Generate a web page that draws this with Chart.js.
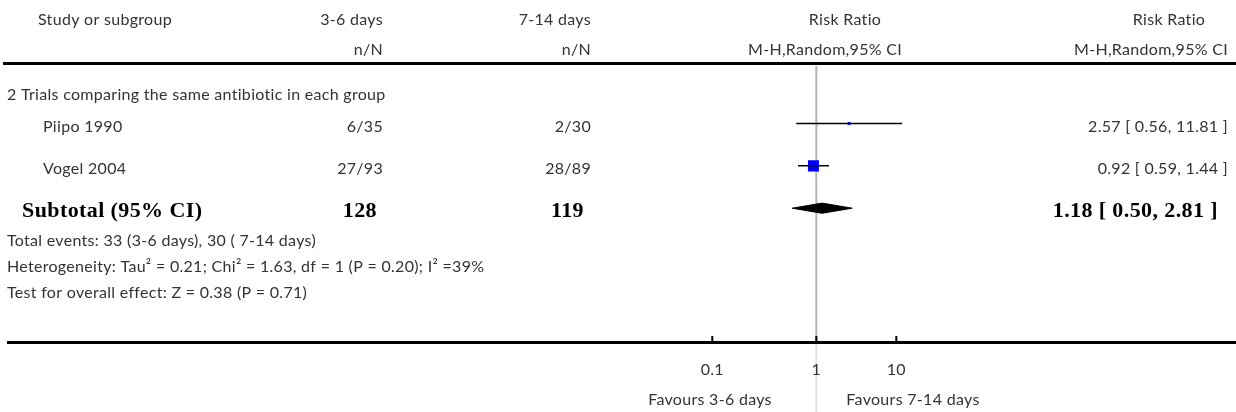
<!DOCTYPE html>
<html>
<head>
<meta charset="utf-8">
<script src="https://cdn.jsdelivr.net/npm/chart.js@4.4.1/dist/chart.umd.min.js"></script>
<style>
  html, body { margin: 0; padding: 0; background: #fff; }
  canvas { display: block; }
</style>
</head>
<body>
<canvas id="forest" width="1236" height="412"></canvas>
<script>
// study data
const studies = ['Piipo 1990', 'Vogel 2004'];
const eventsShort = ['6/35', '27/93'];
const eventsLong = ['2/30', '28/89'];
const riskRatio = [2.57, 0.92];
const ciLow = [0.56, 0.59];
const ciHigh = [11.81, 1.44];
const studyRows = [1, 2];

// pooled
const subtotalRow = 3;
const subtotalN = ['128', '119'];
const subtotalRR = [1.18];
const subtotalLow = [0.50];
const subtotalHigh = [2.81];

// axis
const tickValues = [0.05, 1, 10];
const tickLabels = ['0.1', '1', '10'];

const fmt = (v, lo, hi) => v.toFixed(2) + ' [ ' + lo.toFixed(2) + ', ' + hi.toFixed(2) + ' ]';

const SANS = '16px Lato';
const SERIF = 'bold 22px "Liberation Serif"';
const GREY = '#333';

const ciSets = studies.map((s, i) => ({
    type: 'scatter',
    showLine: true,
    data: [{ x: ciLow[i], y: studyRows[i] }, { x: ciHigh[i], y: studyRows[i] }],
    borderColor: '#000',
    borderWidth: 1.5,
    pointRadius: 0,
    order: 1
}));

const boxSet = {
    type: 'scatter',
    data: riskRatio.map((v, i) => ({ x: v, y: studyRows[i] })),
    pointStyle: 'rect',
    pointRadius: [2.1, 7.8],
    backgroundColor: '#0000ff',
    borderWidth: 0,
    order: 2
};

const h = 0.12;
const diamondSet = {
    type: 'scatter',
    showLine: true,
    data: [
        { x: subtotalLow[0], y: subtotalRow },
        { x: subtotalRR[0], y: subtotalRow - h },
        { x: subtotalHigh[0], y: subtotalRow },
        { x: subtotalRR[0], y: subtotalRow + h },
        { x: subtotalLow[0], y: subtotalRow }
    ],
    borderColor: '#000',
    borderWidth: 1,
    backgroundColor: '#000',
    fill: 'shape',
    pointRadius: 0,
    order: 1
};

const forestText = {
    id: 'forestText',
    beforeDatasetsDraw(chart) {
        const ctx = chart.ctx;
        const x1 = chart.scales.x.getPixelForValue(1);
        ctx.save();
        ctx.lineWidth = 2;
        ctx.strokeStyle = '#b4b4b4';
        ctx.beginPath();
        ctx.moveTo(x1, 66);
        ctx.lineTo(x1, 342);
        ctx.stroke();
        ctx.strokeStyle = '#e2e2e2';
        ctx.beginPath();
        ctx.moveTo(x1, 342);
        ctx.lineTo(x1, 412);
        ctx.stroke();
        ctx.restore();
    },
    afterDraw(chart) {
        const ctx = chart.ctx;
        const xs = chart.scales.x;
        const ys = chart.scales.y;
        const put = (t, x, y, align, bold) => {
            ctx.font = bold ? SERIF : SANS;
            ctx.letterSpacing = bold ? '0.4px' : '0.3px';
            ctx.fillStyle = bold ? '#000' : GREY;
            ctx.textAlign = align;
            ctx.textBaseline = 'alphabetic';
            ctx.fillText(t, x, y);
        };
        ctx.save();

        // header
        put('Study or subgroup', 38, 25, 'left');
        put('3-6 days', 383, 25, 'right');
        put('n/N', 383, 55, 'right');
        put('7-14 days', 591, 25, 'right');
        put('n/N', 591, 55, 'right');
        put('Risk Ratio', 845, 25, 'center');
        put('M-H,Random,95% CI', 825, 55, 'center');
        put('Risk Ratio', 1169, 25, 'center');
        put('M-H,Random,95% CI', 1228, 55, 'right');

        ctx.fillStyle = '#000';
        ctx.fillRect(3, 62, 1233, 3);

        put('2 Trials comparing the same antibiotic in each group', 7, 100, 'left');

        studies.forEach((s, i) => {
            const y = ys.getPixelForValue(studyRows[i]) + 8;
            put(s, 43, y, 'left');
            put(eventsShort[i], 383, y, 'right');
            put(eventsLong[i], 591, y, 'right');
            put(fmt(riskRatio[i], ciLow[i], ciHigh[i]), 1228, y, 'right');
        });

        const ySub = ys.getPixelForValue(subtotalRow) + 9;
        put('Subtotal (95% CI)', 22, ySub, 'left', true);
        put(subtotalN[0], 377, ySub, 'right', true);
        put(subtotalN[1], 584, ySub, 'right', true);
        put(fmt(subtotalRR[0], subtotalLow[0], subtotalHigh[0]), 1218, ySub, 'right', true);

        put('Total events: 33 (3-6 days), 30 ( 7-14 days)', 7, 246, 'left');
        put('Heterogeneity: Tau\u00b2 = 0.21; Chi\u00b2 = 1.63, df = 1 (P = 0.20); I\u00b2 =39%', 7, 272, 'left');
        put('Test for overall effect: Z = 0.38 (P = 0.71)', 7, 298, 'left');

        // axis
        ctx.fillStyle = '#000';
        ctx.fillRect(7, 341, 1229, 3);
        tickValues.forEach((v, i) => {
            const px = xs.getPixelForValue(v);
            ctx.fillStyle = '#000';
            ctx.fillRect(px - 1, 336, 2, 6);
            put(tickLabels[i], px, 375, 'center');
        });
        put('Favours 3-6 days', 710, 405, 'center');
        put('Favours 7-14 days', 913, 405, 'center');

        ctx.restore();
    }
};

new Chart(document.getElementById('forest'), {
    type: 'scatter',
    data: { datasets: [...ciSets, boxSet, diamondSet] },
    options: {
        responsive: false,
        animation: false,
        layout: { padding: 0 },
        plugins: { legend: { display: false }, tooltip: { enabled: false } },
        scales: {
            x: { type: 'logarithmic', display: false, bounds: 'data', min: Math.pow(10, -10.11), max: Math.pow(10, 5.15) },
            y: { type: 'linear', display: false, reverse: true, min: -1.734, max: 7.63 }
        }
    },
    plugins: [forestText]
});
</script>
</body>
</html>
